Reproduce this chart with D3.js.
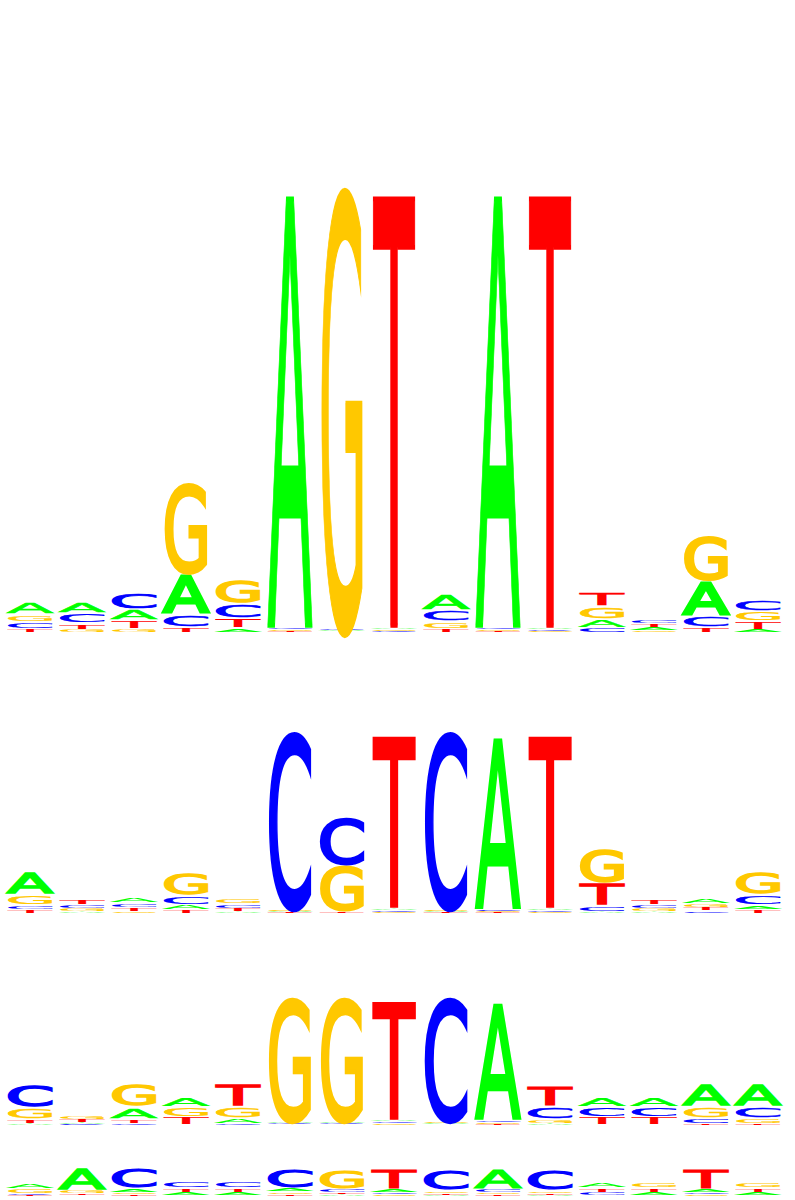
<!DOCTYPE html>
<html>
<head>
<meta charset="utf-8">
<script src="https://cdn.jsdelivr.net/npm/d3@7"></script>
<style>
	body { margin: 0; background: #fff; }
</style>
</head>
<body>
<svg id="logo"></svg>
<script>
//Bases in the order of each column's values.
const bases = ['A', 'C', 'G', 'T'];
const positions = d3.range(1, 16);
//Information (bits) per base, one [A, C, G, T] entry per position.
const motif1 = [
	[0.059, 0.031, 0.033, 0.018], [0.050, 0.048, 0.014, 0.027], [0.050, 0.081, 0.018, 0.036],
	[0.185, 0.059, 0.400, 0.023], [0.018, 0.068, 0.113, 0.045], [1.946, 0.010, 0.007, 0.005],
	[0.004, 0.006, 1.960, 0.003], [0.009, 0.006, 0.007, 1.946], [0.077, 0.050, 0.032, 0.018],
	[1.946, 0.010, 0.007, 0.005], [0.010, 0.007, 0.005, 1.946], [0.036, 0.023, 0.059, 0.068],
	[0.014, 0.020, 0.009, 0.018], [0.162, 0.050, 0.203, 0.023], [0.014, 0.050, 0.045, 0.036]
];
const motif2 = [
	[0.256, 0.050, 0.111, 0.044], [0.022, 0.044, 0.033, 0.056], [0.061, 0.055, 0.017, 0.044],
	[0.056, 0.100, 0.256, 0.044], [0.022, 0.055, 0.061, 0.033], [0.015, 1.930, 0.018, 0.010],
	[0.004, 0.530, 0.520, 0.010], [0.025, 0.020, 0.015, 1.900], [0.015, 1.930, 0.018, 0.010],
	[1.900, 0.030, 0.015, 0.010], [0.025, 0.020, 0.015, 1.900], [0.017, 0.067, 0.390, 0.256],
	[0.022, 0.044, 0.033, 0.056], [0.056, 0.028, 0.044, 0.033], [0.050, 0.111, 0.256, 0.044]
];
const motif3 = [
	[0.023, 0.375, 0.172, 0.078], [0.023, 0.016, 0.060, 0.055], [0.190, 0.023, 0.360, 0.078],
	[0.160, 0.008, 0.150, 0.125], [0.094, 0.023, 0.172, 0.360], [0.020, 0.015, 1.900, 0.010],
	[0.020, 0.015, 1.900, 0.012], [0.040, 0.035, 0.030, 1.840], [0.015, 1.900, 0.020, 0.010],
	[1.830, 0.035, 0.025, 0.015], [0.023, 0.200, 0.078, 0.340], [0.160, 0.150, 0.008, 0.125],
	[0.160, 0.150, 0.008, 0.125], [0.360, 0.094, 0.172, 0.023], [0.360, 0.172, 0.094, 0.023]
];
const motif4 = [
	[0.400, 0.100, 0.350, 0.070], [1.550, 0.050, 0.200, 0.120], [0.200, 1.450, 0.170, 0.120],
	[0.200, 0.450, 0.030, 0.330], [0.200, 0.450, 0.030, 0.330], [0.200, 1.400, 0.170, 0.130],
	[0.100, 0.200, 1.400, 0.150], [0.200, 0.150, 0.100, 1.500], [0.080, 1.450, 0.170, 0.120],
	[1.500, 0.220, 0.150, 0.100], [0.080, 1.450, 0.170, 0.120], [0.400, 0.200, 0.030, 0.330],
	[0.200, 0.030, 0.400, 0.330], [0.200, 0.150, 0.100, 1.500], [0.200, 0.030, 0.400, 0.330]
];

const width = 795;
const height = 1200;
const baseColor = {A: '#00ff00', C: '#0000ff', G: '#ffc800', T: '#ff0000'};
//Share of the column each glyph's ink takes horizontally.
const inkShare = {A: 0.93, C: 0.85, G: 0.84, T: 0.87};
const fontFamily = "'DejaVu Sans'";
const fontSize = 200;

//Each logo row: baseline and the pixel height of 2 bits.
const rows = [
	{data: motif1, base: 632, top: 188},
	{data: motif2, base: 913, top: 733},
	{data: motif3, base: 1125, top: 997},
	{data: motif4, base: 1196, top: 1166}
];

const svg = d3.select('#logo')
	.attr('width', width)
	.attr('height', height);
svg.append('rect')
	.attr('width', width)
	.attr('height', height)
	.attr('fill', '#fff');

//Measure glyph ink with a canvas so letters can be stretched to their slots.
const ctx = document.createElement('canvas').getContext('2d');
ctx.font = `${fontSize}px ${fontFamily}`;
const capHeight = ctx.measureText('T').actualBoundingBoxAscent;
const ink = {};
bases.forEach(b => {
	const m = ctx.measureText(b);
	ink[b] = {left: m.actualBoundingBoxLeft, right: m.actualBoundingBoxRight};
});

const x = d3.scaleBand()
	.domain(positions)
	.range([4, 784])
	.paddingInner(0);

rows.forEach(row => {
	const y = d3.scaleLinear()
		.domain([0, 2])
		.range([row.base, row.top]);
	const g = svg.append('g');
	row.data.forEach((vals, i) => {
		const pos = positions[i];
		//Smallest at the bottom, largest on top.
		const stack = bases.map((b, j) => ({base: b, bits: vals[j]}))
			.sort((a, b) => a.bits - b.bits);
		let cum = 0;
		stack.forEach(d => {
			const yBottom = y(cum);
			cum += d.bits;
			const yTop = y(cum);
			const h = yBottom - yTop;
			const gap = Math.min(1.5, h * 0.3);
			const hDraw = h - gap;
			if (hDraw < 0.3) return;
			const wTarget = x.bandwidth() * inkShare[d.base];
			//Stroke thickens the vertical stems a little, as in the reference.
			const sw = Math.min(0.075 * wTarget, 0.12 * hDraw);
			const inkW = ink[d.base].left + ink[d.base].right;
			const sx = (wTarget - sw) / inkW;
			const sy = Math.max(hDraw - sw, 0.05) / capHeight;
			const xc = x(pos) + x.bandwidth() / 2;
			const tx = xc - sx * (ink[d.base].right - ink[d.base].left) / 2;
			const ty = yBottom - sw / 2;
			g.append('text')
				.text(d.base)
				.attr('transform', `translate(${tx},${ty}) scale(${sx},${sy})`)
				.attr('font-family', fontFamily)
				.attr('font-size', fontSize)
				.attr('fill', baseColor[d.base])
				.attr('stroke', baseColor[d.base])
				.attr('stroke-width', sw)
				.attr('vector-effect', 'non-scaling-stroke')
				.style('vector-effect', 'non-scaling-stroke');
		});
	});
});
</script>
</body>
</html>
